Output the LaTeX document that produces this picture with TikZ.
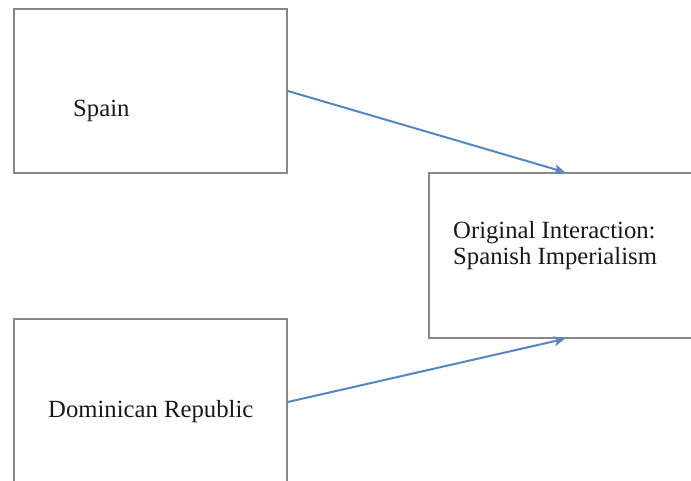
\documentclass[tikz,border=0pt]{standalone}
\usepackage{fontspec}
\setmainfont{Liberation Serif}
\usetikzlibrary{arrows.meta}
\definecolor{boxgray}{RGB}{135,135,135}
\definecolor{linkblue}{RGB}{84,134,196}
\tikzset{
  box/.style={draw=boxgray, line width=1.6pt, rectangle, inner sep=0pt},
  label text/.style={inner sep=0pt, font=\fontsize{24.7pt}{25.5pt}\selectfont, text=black!90},
  link/.style={draw=linkblue, line width=2pt,
    -{Stealth[length=11pt,width=10pt,inset=3pt]}}
}
\begin{document}
\begin{tikzpicture}[x=1pt,y=-1pt]
  \useasboundingbox (0,0) rectangle (691,480);
  \clip (0,0) rectangle (691,480);
  \fill[white] (0,0) rectangle (691,480);

  % boxes
  \node[box, minimum width=273pt, minimum height=164pt] (spain) at (150.5,91) {};
  \node[box, minimum width=273pt, minimum height=166pt] (dr) at (150.5,402) {};
  \node[box, minimum width=272pt, minimum height=165pt] (orig) at (565,255.5) {};

  % texts (the base anchor of a two-line node sits on its last line)
  \node[label text, anchor=base west] (spaintext) at (73,116) {Spain};
  \node[label text, anchor=base west] (drtext) at (48,417) {Dominican Republic};
  \node[label text, anchor=base west, align=left] (origtext) at (453,264)
    {Original Interaction:\\Spanish Imperialism};

  % connectors
  \draw[link] (spain.east) -- (orig.north);
  \draw[link] (dr.east) -- (orig.south);
\end{tikzpicture}
\end{document}
